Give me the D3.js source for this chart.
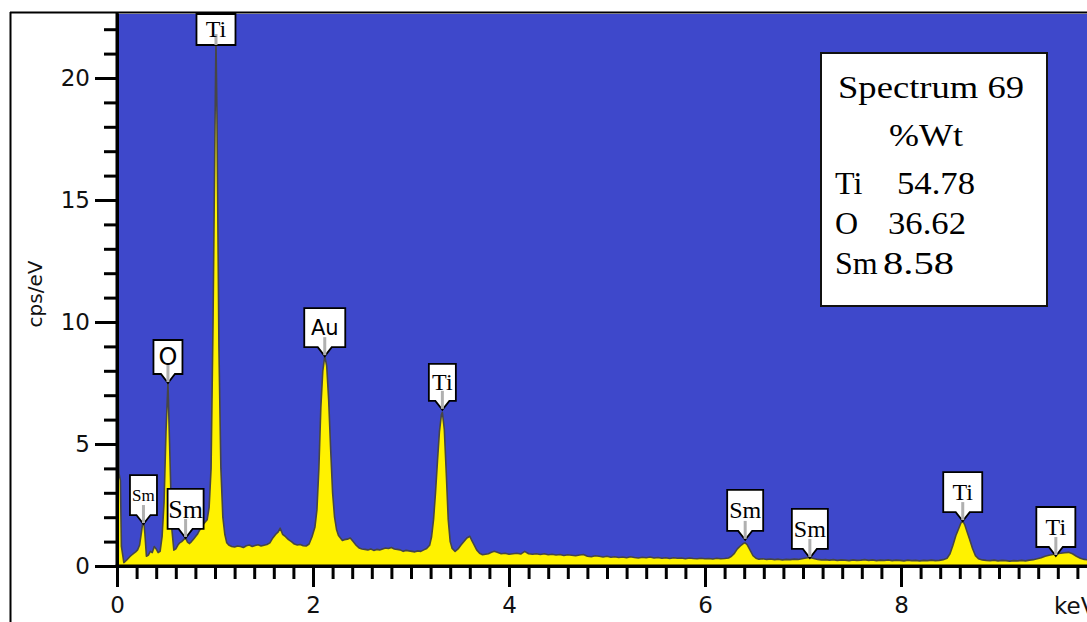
<!DOCTYPE html>
<html>
<head>
<meta charset="utf-8">
<script src="https://cdn.jsdelivr.net/npm/d3@7"></script>
<style>
  html, body { margin: 0; padding: 0; background: #ffffff; }
  svg { display: block; }
</style>
</head>
<body>
<svg id="chart" width="1087" height="622"></svg>
<script>
// ---------------- data ----------------
const energy = [
  0.00, 0.012, 0.02, 0.035, 0.045, 0.07, 0.10, 0.13, 0.15, 0.17, 0.19, 0.21, 0.23, 0.25, 0.27, 0.285,
  0.30, 0.32, 0.34, 0.36, 0.38, 0.40, 0.42, 0.44, 0.46, 0.48, 0.50, 0.52, 0.54, 0.56, 0.58,
  0.60, 0.62, 0.64, 0.66, 0.68, 0.70, 0.72, 0.74, 0.76, 0.78, 0.80, 0.82, 0.84, 0.86, 0.88,
  0.90, 0.92, 0.94, 0.96, 0.98, 1.00, 1.01, 1.02, 1.04, 1.06, 1.08, 1.10, 1.12, 1.14, 1.17,
  1.20, 1.23, 1.26, 1.29, 1.32, 1.35, 1.38, 1.41, 1.44, 1.47, 1.50, 1.53, 1.56, 1.59, 1.62,
  1.645, 1.665, 1.69, 1.72, 1.75, 1.78, 1.81, 1.84, 1.87, 1.90, 1.93, 1.96, 1.99, 2.02, 2.04,
  2.06, 2.08, 2.10, 2.12, 2.14, 2.16, 2.18, 2.20, 2.22, 2.24, 2.26, 2.28, 2.30, 2.32, 2.35,
  2.38, 2.41, 2.44, 2.47, 2.50, 2.53, 2.56, 2.59, 2.62, 2.65, 2.68, 2.71, 2.74, 2.77, 2.80,
  2.83, 2.86, 2.89, 2.92, 2.95, 2.98, 3.01, 3.04, 3.07, 3.10, 3.13, 3.16, 3.19, 3.21, 3.23,
  3.25, 3.27, 3.29, 3.31, 3.32, 3.34, 3.36, 3.38, 3.40, 3.42, 3.45, 3.48, 3.51, 3.54, 3.57,
  3.60, 3.62, 3.64, 3.67, 3.70, 3.73, 3.76, 3.79, 3.82, 3.85, 3.88, 3.92, 3.96, 4.00, 4.04,
  4.08, 4.12, 4.16, 4.20, 4.24, 4.28, 4.32, 4.36, 4.40, 4.44, 4.48, 4.52, 4.56, 4.60, 4.64,
  4.68, 4.72, 4.76, 4.80, 4.84, 4.88, 4.92, 4.96, 5.00, 5.04, 5.08, 5.12, 5.16, 5.20, 5.24,
  5.28, 5.32, 5.36, 5.40, 5.44, 5.48, 5.52, 5.56, 5.60, 5.64, 5.68, 5.72, 5.76, 5.80, 5.84,
  5.88, 5.92, 5.96, 6.00, 6.04, 6.08, 6.12, 6.16, 6.20, 6.24, 6.27, 6.30, 6.33, 6.36, 6.39,
  6.41, 6.43, 6.46, 6.49, 6.52, 6.55, 6.59, 6.63, 6.67, 6.71, 6.75, 6.79, 6.83, 6.87, 6.91,
  6.95, 6.99, 7.03, 7.07, 7.11, 7.15, 7.19, 7.23, 7.27, 7.31, 7.35, 7.39, 7.43, 7.47, 7.51,
  7.55, 7.59, 7.63, 7.67, 7.71, 7.75, 7.79, 7.83, 7.87, 7.91, 7.95, 7.99, 8.03, 8.07, 8.11,
  8.15, 8.19, 8.23, 8.27, 8.31, 8.35, 8.39, 8.43, 8.47, 8.50, 8.53, 8.56, 8.59, 8.61, 8.63,
  8.65, 8.67, 8.70, 8.73, 8.76, 8.79, 8.83, 8.87, 8.91, 8.95, 8.99, 9.03, 9.07, 9.11, 9.15,
  9.19, 9.23, 9.27, 9.31, 9.35, 9.39, 9.43, 9.47, 9.51, 9.55, 9.59, 9.63, 9.67, 9.71, 9.75,
  9.79, 9.83, 9.87, 9.91, 9.95, 10.0
];
const cps = [
  8.0, 8.0, 3.8, 3.5, 0.8, 0.14, 0.25, 0.38, 0.45, 0.52, 0.58, 0.66, 0.85, 1.4, 2.0, 1.3,
  0.4, 0.45, 0.6, 0.55, 0.8, 0.7, 0.55, 0.6, 1.2, 2.6, 5.5, 7.5, 4.5, 1.5, 0.65,
  0.7, 0.85, 0.95, 1.0, 1.08, 1.15, 0.98, 0.92, 1.0, 1.1, 1.2, 1.3, 1.45, 1.55, 1.7,
  1.8, 1.9, 2.4, 4.0, 10.0, 18.0, 21.6, 18.5, 9.0, 4.0, 2.0, 1.3, 0.95, 0.86, 0.8,
  0.78, 0.82, 0.8, 0.76, 0.83, 0.86, 0.8, 0.84, 0.87, 0.82, 0.85, 0.88, 0.95, 1.15, 1.3,
  1.4, 1.55, 1.3, 1.2, 1.08, 1.0, 0.9, 0.86, 0.88, 0.83, 0.82, 0.9, 1.2, 1.6, 2.3,
  4.0, 6.5, 8.0, 8.6, 8.2, 6.8, 4.8, 3.0, 2.0, 1.5, 1.25, 1.15, 1.05, 1.08, 1.1,
  1.15, 1.0, 0.85, 0.74, 0.7, 0.68, 0.66, 0.7, 0.64, 0.68, 0.66, 0.7, 0.74, 0.72, 0.76,
  0.7, 0.68, 0.66, 0.6, 0.64, 0.62, 0.6, 0.58, 0.62, 0.6, 0.66, 0.72, 0.85, 1.2, 1.9,
  3.0, 4.3, 5.5, 6.2, 6.3, 5.6, 3.8, 1.9, 1.0, 0.72, 0.6, 0.7, 0.86, 1.0, 1.15,
  1.22, 1.05, 0.9, 0.66, 0.52, 0.46, 0.48, 0.5, 0.56, 0.6, 0.56, 0.5, 0.52, 0.48, 0.5,
  0.52, 0.49, 0.6, 0.5, 0.48, 0.5, 0.47, 0.5, 0.46, 0.48, 0.45, 0.47, 0.43, 0.46, 0.44,
  0.42, 0.45, 0.47, 0.4, 0.38, 0.42, 0.4, 0.37, 0.4, 0.36, 0.38, 0.35, 0.37, 0.34, 0.38,
  0.35, 0.33, 0.36, 0.34, 0.37, 0.33, 0.35, 0.32, 0.34, 0.31, 0.34, 0.32, 0.33, 0.3, 0.33,
  0.31, 0.3, 0.32, 0.3, 0.31, 0.29, 0.32, 0.3, 0.31, 0.33, 0.4, 0.52, 0.7, 0.82, 0.92,
  0.95, 0.88, 0.65, 0.42, 0.32, 0.28, 0.3, 0.27, 0.29, 0.26, 0.28, 0.25, 0.27, 0.26, 0.28,
  0.27, 0.3, 0.33, 0.35, 0.31, 0.27, 0.25, 0.26, 0.24, 0.26, 0.23, 0.25, 0.24, 0.22, 0.25,
  0.23, 0.24, 0.26, 0.23, 0.25, 0.22, 0.24, 0.23, 0.25, 0.22, 0.24, 0.23, 0.21, 0.24, 0.22,
  0.23, 0.21, 0.23, 0.22, 0.24, 0.22, 0.23, 0.26, 0.32, 0.5, 0.85, 1.25, 1.55, 1.75, 1.85,
  1.7, 1.45, 1.1, 0.72, 0.42, 0.3, 0.25, 0.23, 0.22, 0.24, 0.21, 0.23, 0.22, 0.2, 0.22,
  0.21, 0.23, 0.21, 0.24, 0.26, 0.3, 0.34, 0.4, 0.44, 0.47, 0.5, 0.52, 0.54, 0.56, 0.5,
  0.4, 0.32, 0.27, 0.25, 0.24, 0.23
];

// peak labels
const peakNames = ["Ti", "O", "Au", "Ti", "Sm", "Sm", "Sm", "Sm", "Ti", "Ti"];
const peakKeV   = [1.01, 0.52, 2.12, 3.32, 0.27, 0.70, 6.41, 7.07, 8.63, 9.58];
const peakCps   = [21.6, 7.5, 8.6, 6.4, 1.72, 1.15, 1.07, 0.33, 1.84, 0.41];

// axis ticks
const xMajorTicks = [0, 2, 4, 6, 8];
const yMajorTicks = [0, 5, 10, 15, 20];
const xUnitLabel = "keV";
const yAxisTitle = "cps/eV";

// composition box
const boxTitle = "Spectrum 69";
const boxSubtitle = "%Wt";
const compElements = ["Ti", "O", "Sm"];
const compValues = ["54.78", "36.62", "8.58"];

// ---------------- layout / styles ----------------
const plotLeft = 117, plotTop = 13, plotBottom = 566;
const pxPerKeV = 98, pxPerCps = 24.4;
const xMaxKeV = 10;
const yMaxCps = (plotBottom - plotTop) / pxPerCps;

const BLUE = "#3e48cb", YELLOW = "#fff200", OUTLINE = "#464646";
const SANS = "'DejaVu Sans', Verdana, sans-serif";
const SERIF = "'Liberation Serif', 'Times New Roman', serif";
const TICK_FONT = "23px";

// per-label styles (same order as peakNames)
const labelStyles = [
  {font: SERIF, size: 24, w: 39, h: 31},
  {font: SANS,  size: 24, w: 29, h: 34},
  {font: SANS,  size: 21, w: 41, h: 39},
  {font: SERIF, size: 24, w: 27, h: 37},
  {font: SERIF, size: 17, w: 27, h: 40},
  {font: SERIF, size: 26, w: 36, h: 40},
  {font: SERIF, size: 24, w: 36, h: 41},
  {font: SERIF, size: 24, w: 36, h: 40},
  {font: SERIF, size: 24, w: 39, h: 40},
  {font: SERIF, size: 24, w: 39, h: 40}
];

const svg = d3.select("#chart");

const x = d3.scaleLinear().domain([0, xMaxKeV]).range([plotLeft, plotLeft + xMaxKeV * pxPerKeV]);
const y = d3.scaleLinear().domain([0, yMaxCps]).range([plotBottom, plotTop]);

// outer frame
svg.append("line").attr("x1", 10).attr("x2", 1087).attr("y1", 12.5).attr("y2", 12.5)
  .attr("stroke", "#000").attr("stroke-width", 2);
svg.append("line").attr("x1", 10.5).attr("x2", 10.5).attr("y1", 12).attr("y2", 622)
  .attr("stroke", "#000").attr("stroke-width", 2);

// plot background
svg.append("rect").attr("x", plotLeft).attr("y", plotTop + 1)
  .attr("width", x(xMaxKeV) - plotLeft).attr("height", plotBottom - plotTop - 1)
  .attr("fill", BLUE);

svg.append("defs").append("clipPath").attr("id", "plotclip")
  .append("rect").attr("x", plotLeft).attr("y", plotTop + 1)
  .attr("width", x(xMaxKeV) - plotLeft).attr("height", plotBottom - plotTop);

const spectrum = energy.map((e, i) => [e, cps[i]]);

const area = d3.area().x(d => x(d[0])).y0(y(0)).y1(d => y(d[1]));
const line = d3.line().x(d => x(d[0])).y(d => y(d[1]));

const g = svg.append("g").attr("clip-path", "url(#plotclip)");
g.append("path").datum(spectrum).attr("d", area).attr("fill", YELLOW);
g.append("path").datum(spectrum).attr("d", line).attr("fill", "none")
  .attr("stroke", OUTLINE).attr("stroke-width", 1.6).attr("stroke-linejoin", "round");

// ---------------- axes ----------------
function styleAxis(sel) {
  sel.select(".domain").attr("stroke", "#000").attr("stroke-width", 3);
  sel.selectAll(".tick line").attr("stroke", "#000").attr("stroke-width", 3);
}

// y minor
const yMinor = svg.append("g").attr("transform", `translate(${plotLeft},0)`)
  .call(d3.axisLeft(y).tickValues(d3.range(0, 23, 1)).tickSize(13).tickFormat("").tickSizeOuter(0));
styleAxis(yMinor);
// y major
const yMajor = svg.append("g").attr("transform", `translate(${plotLeft},0)`)
  .call(d3.axisLeft(y).tickValues(yMajorTicks).tickSize(22).tickPadding(5).tickSizeOuter(0));
yMajor.attr("font-size", 23).attr("font-family", SANS);
styleAxis(yMajor);
yMajor.selectAll(".tick text").style("font-size", TICK_FONT).style("font-family", SANS).attr("fill", "#111");
yMajor.select(".domain").remove();

// x minor
const xMinor = svg.append("g").attr("transform", `translate(0,${plotBottom})`)
  .call(d3.axisBottom(x).tickValues(d3.range(0, 50).map(i => i * 0.2)).tickSize(13).tickFormat("").tickSizeOuter(0));
styleAxis(xMinor);
// x major
const xMajor = svg.append("g").attr("transform", `translate(0,${plotBottom})`)
  .call(d3.axisBottom(x).tickValues(xMajorTicks).tickSize(21).tickPadding(10).tickSizeOuter(0));
xMajor.attr("font-size", 23).attr("font-family", SANS);
styleAxis(xMajor);
xMajor.select(".domain").remove();
xMajor.selectAll(".tick text").style("font-size", TICK_FONT).style("font-family", SANS).attr("fill", "#111");

// redraw thick axis lines on top
svg.append("line").attr("x1", plotLeft).attr("x2", plotLeft).attr("y1", plotTop).attr("y2", plotBottom + 1.5)
  .attr("stroke", "#000").attr("stroke-width", 3);
svg.append("line").attr("x1", plotLeft - 1.5).attr("x2", 1087).attr("y1", plotBottom).attr("y2", plotBottom)
  .attr("stroke", "#000").attr("stroke-width", 3);

svg.append("text").text(xUnitLabel)
  .attr("x", 1054).attr("y", 614)
  .style("font-family", SANS).style("font-size", TICK_FONT).attr("fill", "#111");

svg.append("text").text(yAxisTitle)
  .attr("transform", `translate(42,294) rotate(-90)`)
  .attr("text-anchor", "middle")
  .style("font-family", SANS).style("font-size", "20px").attr("fill", "#111");

// ---------------- peak labels ----------------
const pointerH = 9, pointerHalf = 7;
const lg = svg.append("g");
peakNames.forEach((name, i) => {
  const st = labelStyles[i];
  const cx = x(peakKeV[i]);
  const tipY = y(peakCps[i]);
  let bottom = tipY - pointerH;
  let top = bottom - st.h;
  let withPointer = true;
  if (top < plotTop + 1) { top = plotTop + 1; bottom = top + st.h; withPointer = false; }
  const l = cx - st.w / 2, r = cx + st.w / 2;
  const pts = withPointer
    ? [[l, top], [r, top], [r, bottom], [cx + pointerHalf, bottom], [cx, bottom + pointerH], [cx - pointerHalf, bottom], [l, bottom]]
    : [[l, top], [r, top], [r, bottom], [l, bottom]];
  lg.append("path").attr("d", "M" + pts.map(p => p.join(",")).join("L") + "Z")
    .attr("fill", "#fff").attr("stroke", "#000").attr("stroke-width", 1.8);
  const markTop = withPointer ? bottom - 10 : top + 20;
  const markBot = withPointer ? bottom + pointerH - 1 : bottom;
  lg.append("line").attr("x1", cx).attr("x2", cx).attr("y1", markTop).attr("y2", markBot)
    .attr("stroke", "#b0b0b0").attr("stroke-width", 3);
  lg.append("text").text(name)
    .attr("x", cx).attr("y", (top + bottom) / 2 + st.size * 0.33)
    .attr("text-anchor", "middle")
    .style("font-family", st.font).style("font-size", st.size + "px").attr("fill", "#000");
});

// ---------------- composition box ----------------
const bx = 821, by = 53, bw = 226, bh = 253;
svg.append("rect").attr("x", bx).attr("y", by).attr("width", bw).attr("height", bh)
  .attr("fill", "#fff").attr("stroke", "#111").attr("stroke-width", 2);
const bt = svg.append("g").style("font-family", SERIF).style("font-size", "32px").attr("fill", "#000");
bt.append("text").text(boxTitle).attr("x", 838).attr("y", 98)
  .attr("textLength", 186).attr("lengthAdjust", "spacingAndGlyphs");
bt.append("text").text(boxSubtitle).attr("x", 889).attr("y", 146)
  .attr("textLength", 74).attr("lengthAdjust", "spacingAndGlyphs");
const rowY = [194, 234, 274];
const valX = [897, 888, 883];
compElements.forEach((el, i) => {
  bt.append("text").text(el).attr("x", 835).attr("y", rowY[i]);
  bt.append("text").text(compValues[i]).attr("x", valX[i]).attr("y", rowY[i])
    .attr("textLength", compValues[i].length > 4 ? 78 : 71).attr("lengthAdjust", "spacingAndGlyphs");
});
</script>
</body>
</html>
